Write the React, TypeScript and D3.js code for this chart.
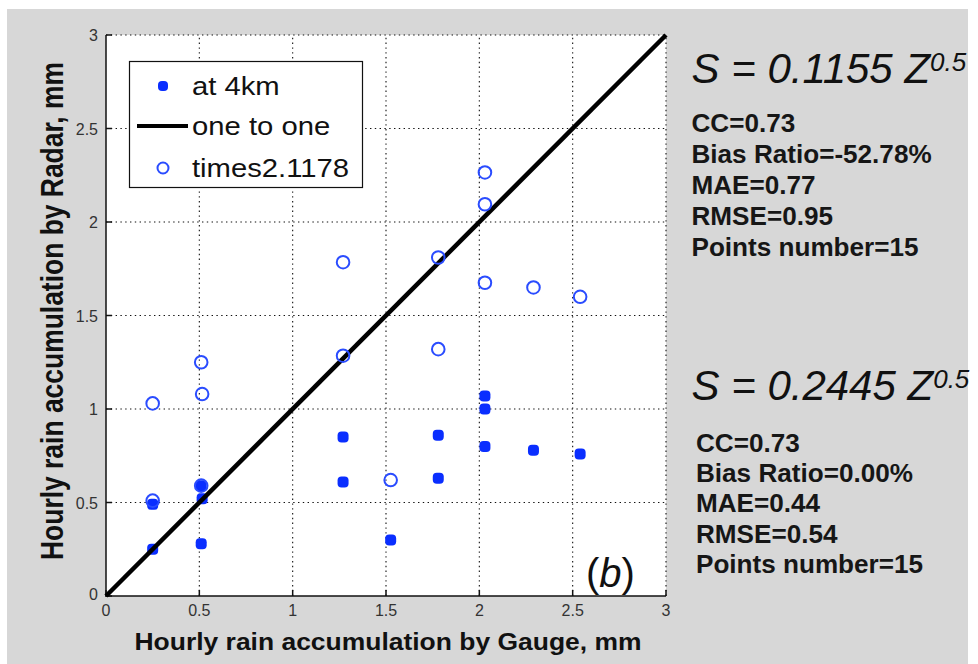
import React from "react";
import * as d3 from "d3";

// Gauge accumulation (mm) for each of the 15 matched hours
const gaugeMm = [0.25, 0.25, 0.51, 0.515, 0.51, 1.27, 1.27, 1.525, 1.78, 1.78, 2.03, 2.03, 2.03, 2.29, 2.54];
// Radar estimate at 4 km, S = 0.1155 Z^0.5
const radarAt4km = [0.25, 0.49, 0.59, 0.52, 0.28, 0.85, 0.61, 0.30, 0.86, 0.63, 1.07, 1.00, 0.80, 0.78, 0.76];
// Same estimate after multiplying by 2.1178
const radarScaled = [0.51, 1.03, 1.25, 1.08, 0.59, 1.785, 1.285, 0.62, 1.81, 1.32, 2.265, 2.095, 1.675, 1.65, 1.6];

const tickValues = [0, 0.5, 1, 1.5, 2, 2.5, 3];
const tickLabels = ["0", "0.5", "1", "1.5", "2", "2.5", "3"];

const legendLabels = ["at 4km", "one to one", "times2.1178"];

const equationCoefs = ["0.1155", "0.2445"];
const statsOriginal = ["CC=0.73", "Bias Ratio=-52.78%", "MAE=0.77", "RMSE=0.95", "Points number=15"];
const statsScaled = ["CC=0.73", "Bias Ratio=0.00%", "MAE=0.44", "RMSE=0.54", "Points number=15"];

const BLUE = "#0a2eff";
const OPEN_BLUE = "#2a4cff";
const SANS = "'Liberation Sans', Arial, Helvetica, sans-serif";

export default function App() {
  const W = 978;
  const H = 664;
  const left = 106, right = 666, top = 35, bottom = 596;

  const x = d3.scaleLinear().domain([0, 3]).range([left, right]);
  const y = d3.scaleLinear().domain([0, 3]).range([bottom, top]);

  const oneToOne = d3.line<number>().x((d) => x(d)).y((d) => y(d))([0, 3]) || "";

  const equation = (coef: string, baseline: number) => (
    <text x={691.5} y={baseline} fontFamily={SANS} fontStyle="italic" fontSize={42} fill="#111">
      {`S = ${coef} Z`}
      <tspan fontSize={26} dy={-12}>0.5</tspan>
    </text>
  );

  const stats = (lines: string[], x0: number, y0: number, step: number) => (
    <g>
      {lines.map((s, i) => (
        <text
          key={i}
          transform={`translate(${x0},${y0 + i * step}) scale(1.045,1)`}
          fontFamily={SANS}
          fontWeight="bold"
          fontSize={25}
          fill="#161616"
        >
          {s}
        </text>
      ))}
    </g>
  );

  const legendRows = [86, 126, 168];

  return (
    <svg
      width={W}
      height={H}
      viewBox={`0 0 ${W} ${H}`}
      style={{ position: "absolute", left: 0, top: 0, display: "block", background: "#fff" }}
    >
      <rect x={7} y={9} width={961} height={H - 9} fill="#d7d7d7" />

      {/* plotting area */}
      <rect x={left} y={top} width={right - left} height={bottom - top} fill="#fff" />

      {/* dotted grid */}
      <g stroke="#111" strokeWidth={1.1} strokeDasharray="1.4,3.4">
        {tickValues.slice(1).map((v) => (
          <line key={"gx" + v} x1={x(v)} x2={x(v)} y1={bottom} y2={top} />
        ))}
        {tickValues.slice(1).map((v) => (
          <line key={"gy" + v} x1={left} x2={right} y1={y(v)} y2={y(v)} />
        ))}
      </g>

      {/* axes */}
      <g stroke="#111" strokeWidth={1.5} fill="none">
        <line x1={left} x2={left} y1={top} y2={bottom + 0.75} />
        <line x1={left - 0.75} x2={right} y1={bottom} y2={bottom} />
        {tickValues.map((v) => (
          <line key={"tx" + v} x1={x(v)} x2={x(v)} y1={bottom} y2={bottom - 6} />
        ))}
        {tickValues.map((v) => (
          <line key={"ty" + v} x1={left} x2={left + 6} y1={y(v)} y2={y(v)} />
        ))}
      </g>

      {/* tick labels */}
      <g fontFamily={SANS} fontSize={16} fill="#333">
        {tickValues.map((v, i) => (
          <text key={"lx" + v} x={x(v)} y={616} textAnchor="middle">
            {tickLabels[i]}
          </text>
        ))}
        {tickValues.map((v, i) => (
          <text key={"ly" + v} x={98} y={y(v) + (v === 0 ? 4 : 6)} textAnchor="end">
            {tickLabels[i]}
          </text>
        ))}
      </g>

      {/* axis titles */}
      <text
        x={388}
        y={650}
        textAnchor="middle"
        fontFamily={SANS}
        fontWeight="bold"
        fontSize={23.5}
        textLength={507}
        lengthAdjust="spacingAndGlyphs"
        fill="#111"
      >
        Hourly rain accumulation by Gauge, mm
      </text>
      <text
        transform="translate(63,311) rotate(-90) scale(1,1.2)"
        textAnchor="middle"
        fontFamily={SANS}
        fontWeight="bold"
        fontSize={26}
        textLength={498}
        lengthAdjust="spacingAndGlyphs"
        fill="#111"
      >
        Hourly rain accumulation by Radar, mm
      </text>

      {/* radar at 4 km */}
      <g fill={BLUE}>
        {gaugeMm.map((g, i) => (
          <rect key={"f" + i} x={x(g) - 5.5} y={y(radarAt4km[i]) - 5.5} width={11} height={11} rx={4} />
        ))}
      </g>

      {/* one-to-one reference */}
      <path d={oneToOne} stroke="#000" strokeWidth={4.5} fill="none" />

      {/* scaled radar */}
      <g fill="none" stroke={OPEN_BLUE} strokeWidth={2}>
        {gaugeMm.map((g, i) => (
          <circle key={"o" + i} cx={x(g)} cy={y(radarScaled[i])} r={6.3} />
        ))}
      </g>

      {/* panel tag */}
      <text x={586} y={587} fontFamily={SANS} fontSize={40} fill="#111">
        (<tspan fontStyle="italic">b</tspan>)
      </text>

      {/* legend */}
      <g>
        <rect x={129.5} y={61.5} width={233} height={126} fill="#fff" stroke="#111" strokeWidth={1.2} />
        <rect x={158} y={legendRows[0] - 5} width={10} height={10} rx={4} fill={BLUE} />
        <line x1={137} x2={188} y1={legendRows[1]} y2={legendRows[1]} stroke="#000" strokeWidth={4} />
        <circle cx={163} cy={legendRows[2]} r={5.5} fill="none" stroke={OPEN_BLUE} strokeWidth={2} />
        {legendLabels.map((s, i) => (
          <text
            key={s}
            transform={`translate(192,${legendRows[i] + 8.5}) scale(1.17,1)`}
            fontFamily={SANS}
            fontSize={25}
            fill="#111"
          >
            {s}
          </text>
        ))}
      </g>

      {/* fitted relations and scores */}
      {equation(equationCoefs[0], 83)}
      {stats(statsOriginal, 691.5, 131.5, 31.2)}
      {equation(equationCoefs[1], 400)}
      {stats(statsScaled, 696, 451.5, 30.4)}
    </svg>
  );
}
